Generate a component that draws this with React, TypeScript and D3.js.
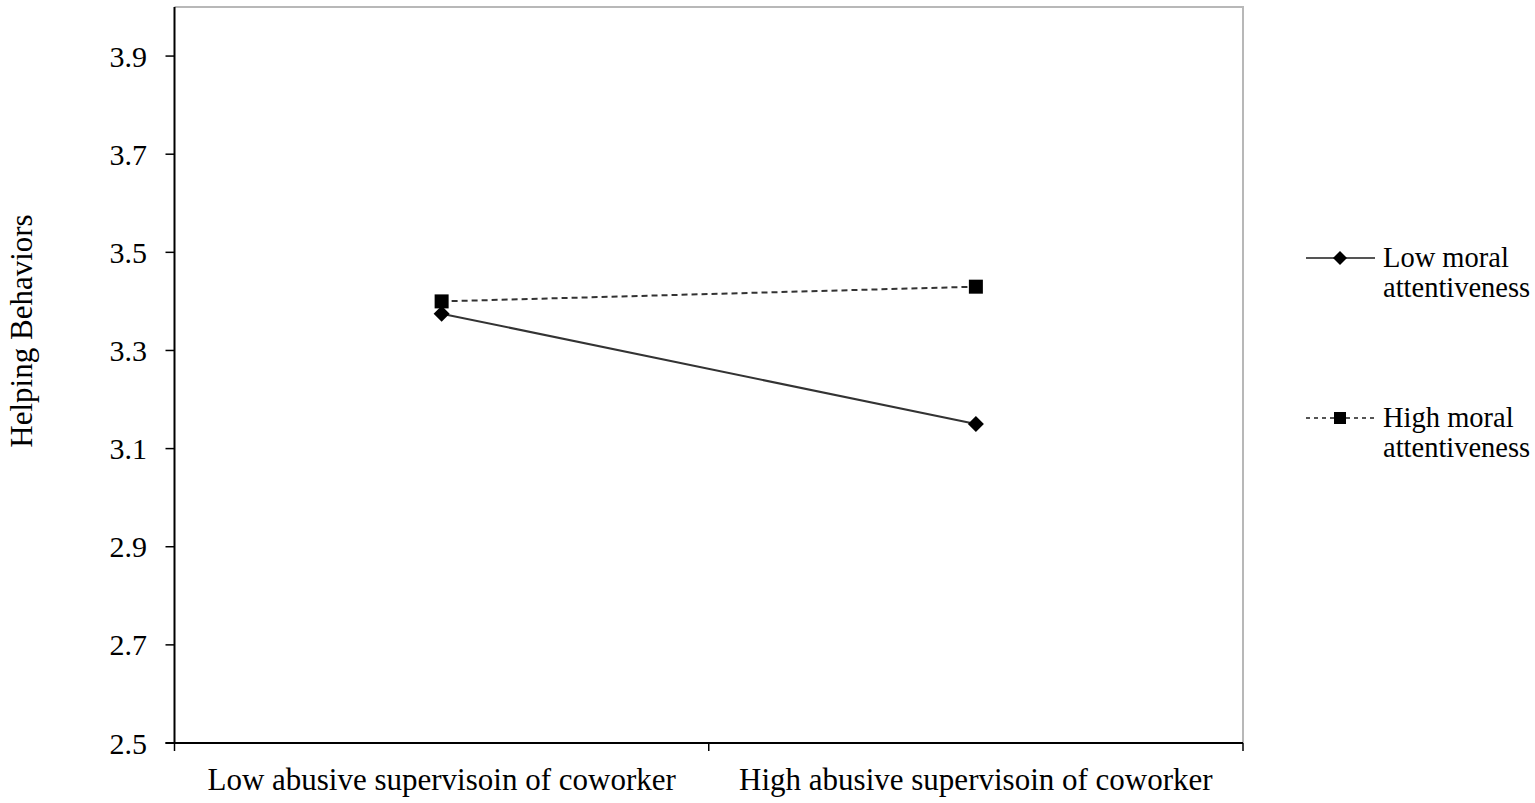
import React from "react";
import * as d3 from "d3";

const categories = ["Low abusive supervisoin of coworker", "High abusive supervisoin of coworker"];
const lowMoral = [3.375, 3.15];
const highMoral = [3.4, 3.43];
const yTicks = [2.5, 2.7, 2.9, 3.1, 3.3, 3.5, 3.7, 3.9];
const seriesNames = ["Low moral attentiveness", "High moral attentiveness"];

const W = 1535, H = 803;
const left = 174.5, right = 1243, top = 7, bottom = 743;
const FONT = "'Liberation Serif', 'Times New Roman', serif";

export default function App() {
  const x = d3.scaleBand<string>().domain(categories).range([left, right]);
  const y = d3.scaleLinear().domain([2.5, 4.0]).range([bottom, top]);
  const cx = (c: string) => (x(c) as number) + x.bandwidth() / 2;
  const line = d3.line<[number, number]>().x(d => d[0]).y(d => d[1]);
  const lowPts: [number, number][] = categories.map((c, i) => [cx(c), y(lowMoral[i])]);
  const highPts: [number, number][] = categories.map((c, i) => [cx(c), y(highMoral[i])]);
  const diamond = (px: number, py: number, r: number) => `M${px},${py - r}L${px + r},${py}L${px},${py + r}L${px - r},${py}Z`;
  const bandEdges = [left, ...categories.map(c => (x(c) as number) + x.bandwidth())];

  return (
    <svg width={W} height={H} style={{ position: "absolute", left: 0, top: 0, background: "#fff" }}>
      {/* top and right border */}
      <path d={`M${left},${top}H${right}V${bottom}`} fill="none" stroke="#b8b8b8" strokeWidth={2} />
      {/* axes */}
      <line x1={left} x2={left} y1={top} y2={bottom} stroke="#000" strokeWidth={2} />
      <line x1={left - 9} x2={right} y1={bottom} y2={bottom} stroke="#000" strokeWidth={2} />
      {yTicks.map(t => (
        <g key={t}>
          <line x1={left - 9} x2={left} y1={y(t)} y2={y(t)} stroke="#000" strokeWidth={1.5} />
          <text x={147} y={y(t)} dy="0.35em" textAnchor="end" fontFamily={FONT} fontSize={30} fill="#000">{t.toFixed(1)}</text>
        </g>
      ))}
      {bandEdges.map((e, i) => (
        <line key={i} x1={e} x2={e} y1={bottom} y2={bottom + 8} stroke="#000" strokeWidth={1.5} />
      ))}
      {categories.map(c => (
        <text key={c} x={cx(c)} y={790} textAnchor="middle" fontFamily={FONT} fontSize={31} fill="#000">{c}</text>
      ))}
      <text transform={`translate(32,331) rotate(-90)`} textAnchor="middle" fontFamily={FONT} fontSize={31} fill="#000">Helping Behaviors</text>

      {/* series */}
      <path d={line(highPts) as string} fill="none" stroke="#333" strokeWidth={2} strokeDasharray="6,4" />
      <path d={line(lowPts) as string} fill="none" stroke="#333" strokeWidth={2} />
      {highPts.map((p, i) => (
        <rect key={i} x={p[0] - 7} y={p[1] - 7} width={14} height={14} fill="#000" />
      ))}
      {lowPts.map((p, i) => (
        <path key={i} d={diamond(p[0], p[1], 8)} fill="#000" />
      ))}

      {/* legend */}
      <g>
        <line x1={1306} x2={1375} y1={258} y2={258} stroke="#555" strokeWidth={2} />
        <path d={diamond(1340, 258, 7)} fill="#000" />
        <text x={1383} y={267} fontFamily={FONT} fontSize={28.5} fill="#000">Low moral</text>
        <text x={1383} y={297} fontFamily={FONT} fontSize={28.5} fill="#000">attentiveness</text>
        <line x1={1306} x2={1375} y1={418} y2={418} stroke="#555" strokeWidth={2} strokeDasharray="4,4" />
        <rect x={1334} y={412} width={12} height={12} fill="#000" />
        <text x={1383} y={427} fontFamily={FONT} fontSize={28.5} fill="#000">High moral</text>
        <text x={1383} y={457} fontFamily={FONT} fontSize={28.5} fill="#000">attentiveness</text>
      </g>
      <desc>{seriesNames.join(", ")}</desc>
    </svg>
  );
}
